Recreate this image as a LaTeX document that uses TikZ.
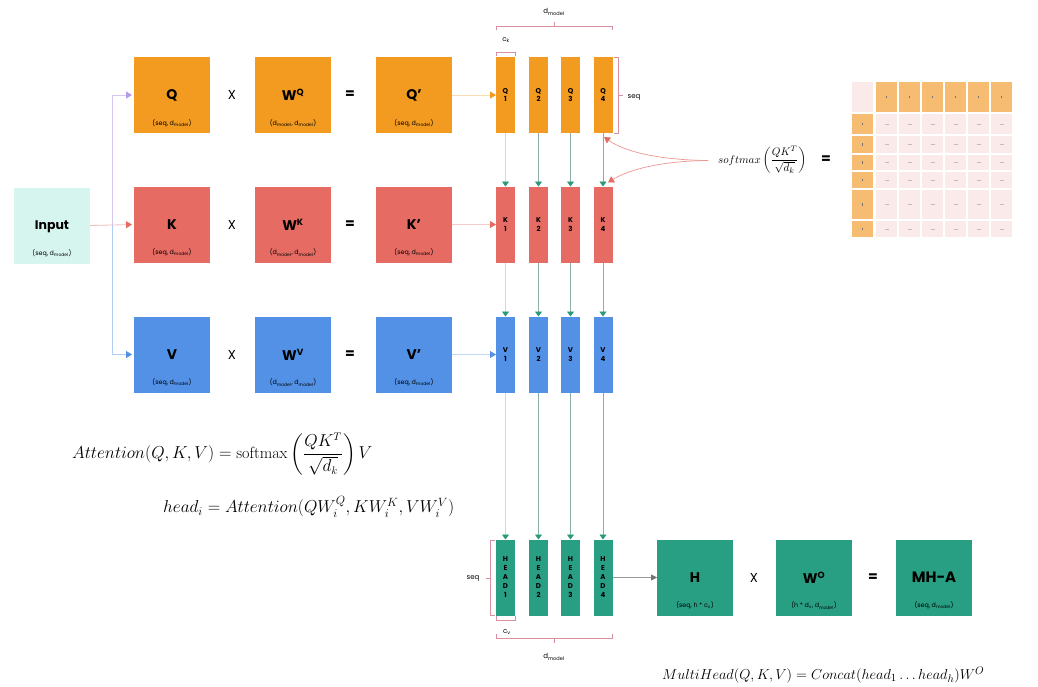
\documentclass[tikz,border=0pt]{standalone}
\usepackage{amsmath}
\usepackage{fontspec}
\setsansfont{Poppins}
\usetikzlibrary{arrows.meta}
\definecolor{qor}{HTML}{F39A21}
\definecolor{kred}{HTML}{E56B63}
\definecolor{vblue}{HTML}{5291E6}
\definecolor{hteal}{HTML}{289E83}
\definecolor{inmint}{HTML}{D6F5EE}
\definecolor{mor}{HTML}{F6BC72}
\definecolor{mpink}{HTML}{FBEAEA}
\definecolor{brc}{HTML}{D8909E}
\definecolor{garr}{HTML}{2A9A7C}
\definecolor{gline}{HTML}{8AB0A8}
\definecolor{lav}{HTML}{B79BEA}
\tikzset{
  bigbox/.style={minimum width=76pt,minimum height=76pt,inner sep=0pt,outer sep=0pt},
  colbox/.style={minimum width=19pt,minimum height=76pt,inner sep=0pt,outer sep=0pt,align=center,
    font=\sffamily\bfseries\fontsize{7}{8.5}\selectfont},
  headbox/.style={colbox,font=\sffamily\bfseries\fontsize{7}{9}\selectfont},
  biglbl/.style={font=\sffamily\bfseries\fontsize{14}{16}\selectfont},
  sublbl/.style={font=\sffamily\fontsize{6.3}{7}\selectfont},
  oplbl/.style={font=\sffamily\fontsize{13}{15}\selectfont},
  eqlbl/.style={font=\sffamily\bfseries\fontsize{14}{15}\selectfont},
  smalllbl/.style={font=\sffamily\fontsize{7}{8}\selectfont},
  gcol1/.style={draw=gline!45, line width=0.8pt, -{Triangle[color=garr,width=7pt,length=5pt]}},
  gcol2/.style={draw=gline, line width=0.8pt, -{Triangle[color=garr,width=7pt,length=5pt]}},
  gcol3/.style={gcol2}, gcol4/.style={gcol2},
  brk/.style={draw=brc, line width=0.7pt},
  redarr/.style={draw=kred!70, line width=0.7pt, -{Triangle[color=kred,width=7pt,length=6pt]}},
}
\begin{document}
\begin{tikzpicture}[x=1pt,y=-1pt,font=\sffamily]
\useasboundingbox (0,0) rectangle (1038,686);
\fill[white] (0,0) rectangle (1038,686);

% Input
\node[bigbox,fill=inmint] (In) at (52,225.5) {};
\node[font=\sffamily\bfseries\fontsize{12.5}{14}\selectfont] at ([yshift=-1pt]In.center) {Input};
\node[sublbl] at ([yshift=10pt]In.south) {(seq, d\textsubscript{model})};

% rows of big boxes
\foreach \n/\c/\y/\l/\w/\p in {Q/qor/95/Q/Q/Q,K/kred/224.5/K/K/K,V/vblue/354.5/V/V/V}{
  \node[bigbox,fill=\c] (\n) at (172,\y) {};
  \node[biglbl] at (\n) {\l};
  \node[sublbl] at ([yshift=10pt]\n.south) {(seq, d\textsubscript{model})};
  \node[oplbl] (x\n) at (232,\y) {X};
  \node[bigbox,fill=\c] (W\n) at (293,\y) {};
  \node[biglbl] at (W\n) {W\textsuperscript{\fontsize{9}{9}\selectfont\w}};
  \node[sublbl] at ([yshift=10pt]W\n.south) {(d\textsubscript{model}, d\textsubscript{model})};
  \node[eqlbl] (e\n) at (350,\y) {=};
  \node[bigbox,fill=\c] (\n p) at (414,\y) {};
  \node[biglbl] at (\n p) {\l’};
  \node[sublbl] at ([yshift=10pt]\n p.south) {(seq, d\textsubscript{model})};
}

% columns
\foreach \i/\x in {1/505.5,2/538.5,3/570.5,4/603}{
  \node[colbox,fill=qor] (Q\i) at (\x,95) {Q\\\i};
  \node[colbox,fill=kred] (K\i) at (\x,224.5) {K\\\i};
  \node[colbox,fill=vblue] (V\i) at (\x,354.5) {V\\\i};
  \node[headbox,fill=hteal] (H\i) at (\x,577.5) {H\\E\\A\\D\\\i};
  \draw[gcol\i] (Q\i.south) -- (K\i.north);
  \draw[gcol\i] (K\i.south) -- (V\i.north);
  \draw[gcol\i] (V\i.south) -- (H\i.north);
}

% input branching
\coordinate (br) at (112,225);
\draw[draw=kred!45,line width=0.8pt,-{Triangle[color=kred,width=7pt,length=6pt]},shorten >=2pt] (In.east) -- (K.west);
\draw[draw=lav!55,line width=0.8pt,-{Triangle[color=lav,width=7pt,length=6pt]},shorten >=2pt] (br) |- (Q.west);
\draw[draw=vblue!45,line width=0.8pt,-{Triangle[color=vblue,width=7pt,length=6pt]},shorten >=2pt] (br) |- (V.west);

% primed to column 1
\draw[draw=qor!35,line width=0.8pt,-{Triangle[color=qor,width=7pt,length=6pt]}] (Qp.east) -- (Q1.west);
\draw[draw=kred!35,line width=0.8pt,-{Triangle[color=kred,width=7pt,length=6pt]}] (Kp.east) -- (K1.west);
\draw[draw=vblue!35,line width=0.8pt,-{Triangle[color=vblue,width=7pt,length=6pt]}] (Vp.east) -- (V1.west);

% top brackets
\draw[brk] (496,30) -- (496,26) -- (612.5,26) -- (612.5,30);
\draw[brk] (554.25,26) -- (554.25,22);
\node[smalllbl] (dm1) at (554,12) {d\textsubscript{model}};
\draw[brk] (496,56) -- (496,52) -- (515,52) -- (515,56);
\node[smalllbl] (ck) at (506,40) {c\textsubscript{k}};
\draw[brk] (614,57) -- (618.5,57) -- (618.5,133) -- (614,133);
\draw[brk] (618.5,95) -- (622.5,95);
\node[smalllbl] (sq1) at (634,97) {seq};

% bottom brackets
\draw[brk] (495,540) -- (490.5,540) -- (490.5,615) -- (495,615);
\draw[brk] (490.5,578) -- (486,578);
\node[smalllbl] (sq2) at (473,578) {seq};
\draw[brk] (496,616) -- (496,620) -- (515,620) -- (515,616);
\node[smalllbl] (cv) at (507,632) {c\textsubscript{v}};
\draw[brk] (496,634) -- (496,638) -- (612.5,638) -- (612.5,634);
\draw[brk] (554.25,638) -- (554.25,643);
\node[smalllbl] (dm2) at (554,657) {d\textsubscript{model}};

% output row
\node[bigbox,fill=hteal] (Hb) at (695,577.5) {};
\node[biglbl] at (Hb) {H};
\node[sublbl] at ([yshift=10pt]Hb.south) {(seq, h * c\textsubscript{v})};
\node[oplbl] (xH) at (754,577.5) {X};
\node[bigbox,fill=hteal] (WO) at (814,577.5) {};
\node[biglbl] at (WO) {W\textsuperscript{\fontsize{9}{9}\selectfont O}};
\node[sublbl] at ([yshift=10pt]WO.south) {(h * d\textsubscript{v}, d\textsubscript{model})};
\node[eqlbl] (eH) at (873,577.5) {=};
\node[bigbox,fill=hteal] (MHA) at (934,577.5) {};
\node[biglbl,font=\sffamily\bfseries\fontsize{15}{16}\selectfont] at (MHA) {MH-A};
\node[sublbl] at ([yshift=10pt]MHA.south) {(seq, d\textsubscript{model})};
\draw[draw=gray!80,line width=0.8pt,-{Triangle[color=gray!90!black,width=6pt,length=6pt]}] (H4.east) -- (Hb.west);

% softmax and matrix
\node[anchor=west,inner sep=0pt,font=\fontsize{11.3}{13}\selectfont] (sm) at (718,160) {$softmax\left(\dfrac{QK^T}{\sqrt{d_k}}\right)$};
\node[eqlbl] (smeq) at (826,160) {=};
\coordinate (smst) at (708,160.5);
\draw[redarr] (smst) .. controls (660,160) and (625,152) .. ([xshift=1pt,yshift=-4pt]Q4.south);
\draw[redarr] (smst) .. controls (660,161) and (628,170) .. ([xshift=5pt,yshift=4pt]K4.north);

\foreach \r/\ta/\tb in {0/82/112,1/114/134,2/136/153,3/155/170,4/172/188,5/190/219,6/221/237}{
  \foreach \c/\xa/\xb in {0/852/873,1/876/897,2/899/920,3/922/943,4/945/966,5/968/989,6/991/1012}{
    \pgfmathtruncatemacro{\kind}{(\r==0 && \c==0) ? 0 : ((\r==0 || \c==0) ? 1 : 2)}
    \ifnum\kind=1
      \fill[mor] (\xa,\ta) rectangle (\xb,\tb);
      \fill[black!55] ({(\xa+\xb)/2-0.7},{(\ta+\tb)/2-1.2}) rectangle ({(\xa+\xb)/2+0.7},{(\ta+\tb)/2+1.2});
    \else
      \fill[mpink] (\xa,\ta) rectangle (\xb,\tb);
      \ifnum\kind=2
        \draw[black!25,line width=0.5pt] ({(\xa+\xb)/2-2},{(\ta+\tb)/2}) -- ({(\xa+\xb)/2+2},{(\ta+\tb)/2});
      \fi
    \fi
  }
}

% formulas
\node[anchor=west,inner sep=0pt,font=\fontsize{16.2}{19}\selectfont] (att) at (72,454) {$Attention(Q,K,V) = \mathrm{softmax}\left(\dfrac{QK^T}{\sqrt{d_k}}\right)V$};
\node[anchor=west,inner sep=0pt,font=\fontsize{16.8}{19}\selectfont] (head) at (163,507) {$head_i = Attention(QW_i^Q, KW_i^K, VW_i^V)$};
\node[anchor=west,inner sep=0pt,font=\fontsize{15.5}{18}\selectfont] (mh) at (662,675) {$MultiHead(Q,K,V) = Concat(head_1 \ldots head_h)W^O$};
\end{tikzpicture}
\end{document}
